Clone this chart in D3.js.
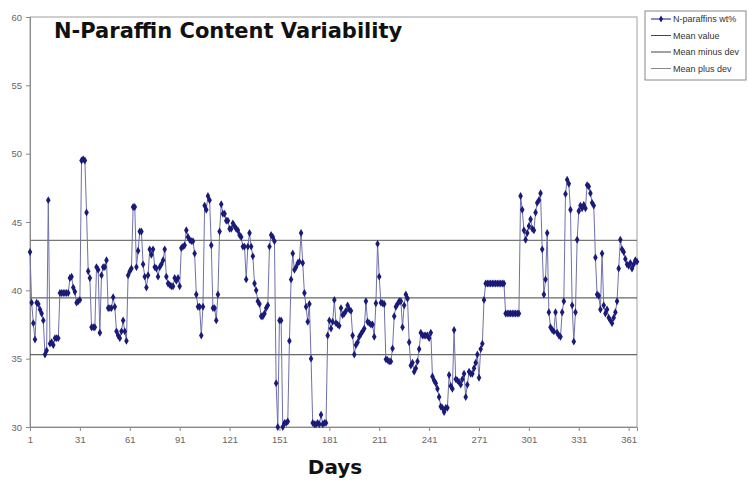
<!DOCTYPE html>
<html><head><meta charset="utf-8">
<script src="https://cdn.jsdelivr.net/npm/d3@7"></script>
<style>body{margin:0;background:#fff}</style>
</head><body><svg id="c" width="748" height="480"></svg>
<script>
// N-paraffins wt% by day
const values = [
42.8,39.1,37.6,36.4,39.1,39.0,38.6,38.3,37.8,35.3,
35.6,46.6,36.1,36.2,36.0,36.5,36.5,36.5,39.8,39.8,
39.8,39.8,39.8,39.8,40.9,41.0,40.2,39.9,39.1,39.2,
39.3,49.5,49.6,49.5,45.7,41.4,40.9,37.3,37.3,37.3,
41.7,41.5,36.9,41.1,41.7,41.7,42.2,38.7,38.7,38.7,
39.5,38.8,37.0,36.7,36.5,37.0,37.8,37.0,36.3,41.1,
41.4,41.6,46.1,46.1,41.7,42.9,44.3,44.3,41.9,41.0,
40.2,41.1,43.0,42.6,43.0,41.7,41.6,41.0,41.7,41.9,
42.2,43.0,41.0,40.5,40.4,40.3,40.3,40.9,40.7,40.9,
40.3,43.1,43.2,43.3,44.4,43.9,43.7,43.6,43.6,42.7,
39.7,38.8,38.8,36.7,38.8,46.2,45.9,46.9,46.6,43.3,
38.7,38.7,37.8,39.7,44.3,46.3,45.6,45.6,45.1,45.1,
44.5,44.5,44.9,44.7,44.5,44.4,44.05,43.9,43.2,43.2,
40.8,43.2,44.2,43.2,42.5,40.5,40.0,39.2,39.0,38.1,
38.1,38.3,38.7,38.9,43.2,44.05,43.9,43.6,33.2,30.0,
37.8,37.8,30.0,30.3,30.3,30.4,36.3,40.8,42.7,41.5,
41.7,42.0,42.1,44.2,42.0,39.8,38.8,37.7,39.0,35.0,
30.3,30.2,30.2,30.3,30.2,30.9,30.2,30.3,30.3,36.7,
37.8,37.2,37.7,39.3,37.6,37.5,37.4,38.7,38.2,38.3,
38.5,38.9,38.6,38.5,36.7,35.3,36.0,36.2,36.6,36.8,
37.0,37.2,39.2,37.7,37.6,37.5,37.5,36.6,39.05,43.4,
41.0,39.1,39.05,39.0,34.95,34.9,34.8,34.8,35.75,38.1,
38.8,39.0,39.2,39.2,37.3,38.9,39.7,39.4,36.2,34.5,
34.7,34.05,34.3,34.8,35.7,36.9,36.7,36.7,36.7,36.7,
36.5,36.9,33.7,33.4,33.2,32.8,32.2,31.5,31.4,31.1,
31.4,31.4,33.8,33.0,32.8,37.1,33.5,33.4,33.3,33.1,
33.5,33.9,32.2,33.1,34.05,33.9,33.9,34.3,34.7,35.3,
33.6,35.7,36.1,39.3,40.5,40.5,40.5,40.5,40.5,40.5,
40.5,40.5,40.5,40.5,40.5,40.5,38.3,38.3,38.3,38.3,
38.3,38.3,38.3,38.3,38.3,46.9,45.9,44.4,43.7,44.2,
44.7,45.2,44.5,44.4,45.7,46.4,46.6,47.1,43.0,39.7,
40.8,44.2,38.4,37.3,37.1,37.0,38.4,36.9,36.7,36.6,
38.4,39.2,47.05,48.1,47.8,45.9,38.9,36.25,38.4,43.7,
45.8,46.2,46.0,46.25,46.0,47.7,47.6,47.1,46.4,46.2,
42.4,39.7,39.6,38.6,42.7,38.9,38.3,38.6,38.0,37.8,
37.6,38.0,38.4,39.2,41.6,43.7,43.0,42.8,42.3,41.9,
41.8,42.0,41.6,41.9,42.2,42.1
];
const meanValue = 39.45;
const meanMinusDev = 35.3;
const meanPlusDev = 43.65;
const xTicks = [1,31,61,91,121,151,181,211,241,271,301,331,361];
const yTicks = [30,35,40,45,50,55,60];
const seriesNames = ["N-paraffins wt%","Mean value","Mean minus dev","Mean plus dev"];
const chartTitle = "N-Paraffin Content Variability";
const xTitle = "Days";

const svg = d3.select("#c");
const x = d3.scaleLinear().domain([1, 366]).range([30, 637]);
const y = d3.scaleLinear().domain([30, 60]).range([427, 17]);

// plot frame
svg.append("rect").attr("x", 30).attr("y", 17).attr("width", 607).attr("height", 410)
  .attr("fill", "none").attr("stroke", "#a0a0a0").attr("stroke-width", 1);

svg.append("defs").append("clipPath").attr("id", "clip")
  .append("rect").attr("x", 26).attr("y", 13).attr("width", 615).attr("height", 418);

// axes
const ya = svg.append("g").attr("transform", "translate(30,0)")
  .call(d3.axisLeft(y).tickValues(yTicks).tickSize(4).tickPadding(4));
const xa = svg.append("g").attr("transform", "translate(0,427)")
  .call(d3.axisBottom(x).tickValues(xTicks).tickSize(4).tickPadding(5));
[ya, xa].forEach(a => {
  a.selectAll("path,line").attr("stroke", "#8a8a8a");
  a.selectAll("text").attr("fill", "#666").attr("font-family", "'Liberation Sans Narrow','Liberation Sans',Arial,sans-serif").attr("font-size", 9.5);
});

// mean lines
const hl = [
  {v: meanValue, c: "#666"},
  {v: meanMinusDev, c: "#666"},
  {v: meanPlusDev, c: "#777"}
];
svg.append("g").selectAll("line").data(hl).join("line")
  .attr("x1", x(1)).attr("x2", x(366))
  .attr("y1", d => y(d.v)).attr("y2", d => y(d.v))
  .attr("stroke", d => d.c).attr("stroke-width", 1.2);

// series
const g = svg.append("g").attr("clip-path", "url(#clip)");
const line = d3.line().x((d, i) => x(i + 1)).y(d => y(d));
g.append("path").datum(values).attr("d", line)
  .attr("fill", "none").attr("stroke", "#7070aa").attr("stroke-width", 1);
const sym = d3.symbol(d3.symbolDiamond, 18);
g.selectAll(".m").data(values).join("path").attr("class", "m")
  .attr("transform", (d, i) => `translate(${x(i + 1)},${y(d)})`)
  .attr("d", sym).attr("fill", "#1a1a78");

// titles
svg.append("text").attr("x", 54).attr("y", 38).text(chartTitle)
  .attr("font-family", "'DejaVu Sans',sans-serif").attr("font-weight", "bold")
  .attr("font-size", 21).attr("fill", "#111");
svg.append("text").attr("x", 335).attr("y", 474).attr("text-anchor", "middle").text(xTitle)
  .attr("font-family", "'DejaVu Sans',sans-serif").attr("font-weight", "bold")
  .attr("font-size", 20).attr("fill", "#111");

// legend
const lg = svg.append("g");
lg.append("rect").attr("x", 645).attr("y", 11).attr("width", 101).attr("height", 69)
  .attr("fill", "#fff").attr("stroke", "#888");
const lc = ["#1a1a78", "#444", "#444", "#8a8a8a"];
seriesNames.forEach((n, i) => {
  const yy = 19 + i * 16.5;
  lg.append("line").attr("x1", 651).attr("x2", 671).attr("y1", yy).attr("y2", yy)
    .attr("stroke", lc[i]).attr("stroke-width", 1);
  if (i === 0) lg.append("path").attr("transform", `translate(661,${yy})`).attr("d", d3.symbol(d3.symbolDiamond, 14)).attr("fill", lc[0]);
  lg.append("text").attr("x", 673).attr("y", yy + 3).text(n)
    .attr("font-family", "'Liberation Sans Narrow','Liberation Sans',Arial,sans-serif")
    .attr("font-size", 9).attr("fill", "#333");
});
</script></body></html>
